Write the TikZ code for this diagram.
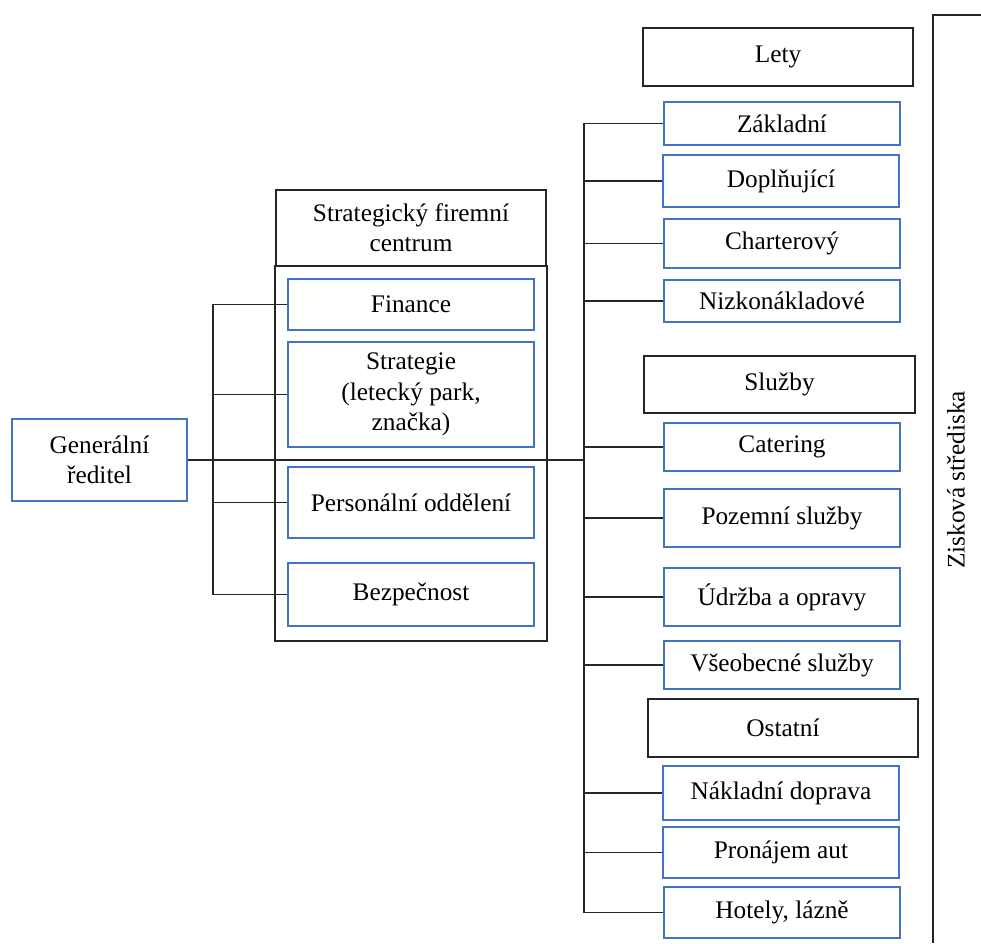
\documentclass[tikz,border=0pt]{standalone}
\usepackage{fontspec}
\setmainfont{Liberation Serif}
\usepackage[]{xcolor}
\definecolor{boxblue}{RGB}{68,114,196}

\begin{document}
\begin{tikzpicture}[x=0.025cm, y=-0.025cm,
  every node/.style={font=\fontsize{18}{21.5}\selectfont, align=center, inner sep=0pt},
  head/.style={draw=black!85, line width=1.1pt},
  unit/.style={draw=boxblue, line width=0.9pt},
  unitbox/.style={unit, minimum width=236*\pxl},
  link/.style={draw=black!85, line width=1pt}]
\newcommand{\pxl}{0.025cm}
\useasboundingbox (0,0) rectangle (981,943);

% Director
\node[unit, minimum width=175*\pxl, minimum height=82*\pxl] (gr) at (99.5,460) {Generální\\ředitel};

% Strategic centre with its departments
\node[head, minimum width=270*\pxl, minimum height=76*\pxl] (sfc) at (411,228) {Strategický firemní\\centrum};
\node[head, minimum width=272*\pxl, minimum height=375*\pxl] (sfcbox) at (411,453.5) {};
\node[unit, minimum width=246*\pxl, minimum height=51*\pxl] (fin) at (411,304.5) {Finance};
\node[unit, minimum width=246*\pxl, minimum height=105*\pxl] (strat) at (411,394.5) {Strategie\\(letecký park,\\značka)};
\node[unit, minimum width=246*\pxl, minimum height=71*\pxl] (pers) at (411,502.5) {Personální oddělení};
\node[unit, minimum width=246*\pxl, minimum height=63*\pxl] (bezp) at (411,594.5) {Bezpečnost};

% Profit centres - Lety
\node[head, minimum width=270*\pxl, minimum height=58*\pxl] (lety) at (778,57) {Lety};
\node[unitbox, minimum height=43*\pxl] (zakl) at (782,123.5) {Základní};
\node[unitbox, minimum height=52*\pxl] (dopl) at (781,181) {Doplňující};
\node[unitbox, minimum height=49*\pxl] (chart) at (782,243.5) {Charterový};
\node[unitbox, minimum height=42*\pxl] (nizko) at (782,301) {Nizkonákladové};

% Profit centres - Služby
\node[head, minimum width=271*\pxl, minimum height=57*\pxl] (sluzby) at (779.5,384.5) {Služby};
\node[unitbox, minimum height=48*\pxl] (cater) at (782,447) {Catering};
\node[unitbox, minimum height=58*\pxl] (pozem) at (782,518) {Pozemní služby};
\node[unitbox, minimum height=58*\pxl] (udrz) at (782,597) {Údržba a opravy};
\node[unitbox, minimum height=48*\pxl] (vseob) at (782,665) {Všeobecné služby};

% Profit centres - Ostatní
\node[head, minimum width=270*\pxl, minimum height=58*\pxl] (ostat) at (783,728) {Ostatní};
\node[unitbox, minimum height=54*\pxl] (naklad) at (781,793) {Nákladní doprava};
\node[unitbox, minimum height=51*\pxl] (pronaj) at (781,852.5) {Pronájem aut};
\node[unitbox, minimum height=51*\pxl] (hotel) at (782,912.5) {Hotely, lázně};

% Bus lines
\coordinate (lbus) at (213,0);
\coordinate (rbus) at (584,0);
\draw[link] (gr.east) -- (gr.east -| rbus);
\draw[link] (fin.west) -- (fin.west -| lbus) -- (bezp.west -| lbus) -- (bezp.west);
\draw[link] (strat.west) -- (strat.west -| lbus);
\draw[link] (pers.west) -- (pers.west -| lbus);
\draw[link] (zakl.west) -- (zakl.west -| rbus) -- (hotel.west -| rbus) -- (hotel.west);
\foreach \n in {dopl, chart, nizko, cater, pozem, udrz, vseob, naklad, pronaj} {
  \draw[link] (\n.west) -- (\n.west -| rbus);
}

% Bracket for profit centres
\coordinate (btop) at (933,15);
\coordinate (bend) at (981,15);
\coordinate (bbot) at (933,943);
\draw[link] (bend) -- (btop) -- (bbot);
\node[rotate=90] (zisk) at (956,480) {Zisková střediska};

\end{tikzpicture}
\end{document}
